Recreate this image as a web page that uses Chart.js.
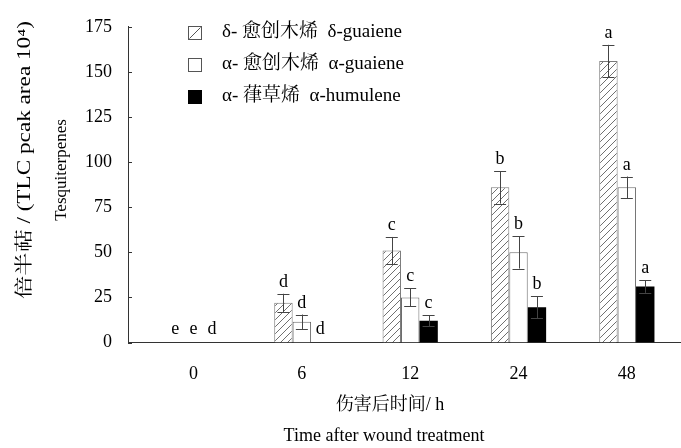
<!DOCTYPE html>
<html>
<head>
<meta charset="utf-8">
<script src="https://cdn.jsdelivr.net/npm/chart.js@4.4.1/dist/chart.umd.min.js"></script>
<style>
html,body{margin:0;padding:0;background:#fff;}
#wrap{width:681px;height:448px;position:relative;}
</style>
</head>
<body>
<div id="wrap"><canvas id="c" width="681" height="448"></canvas></div>
<script>
// ---- data ----
const categories = ['0', '6', '12', '24', '48'];
const seriesNames = ['δ- 愈创木烯  δ-guaiene', 'α- 愈创木烯  α-guaiene', 'α- 葎草烯  α-humulene'];
const deltaGuaiene = [0, 22, 51, 86, 156];
const deltaErr = [0, 5, 7.5, 9, 9];
const alphaGuaiene = [0, 11.5, 25, 50, 86];
const alphaErr = [0, 4, 5, 9, 6];
const alphaHumulene = [0, 0, 12, 19.5, 31];
const humuleneErr = [0, 0, 3, 6, 3.5];
const deltaLetters = ['e', 'd', 'c', 'b', 'a'];
const alphaLetters = ['e', 'd', 'c', 'b', 'a'];
const humuleneLetters = ['d', 'd', 'c', 'b', 'a'];
const yTicks = [0, 25, 50, 75, 100, 125, 150, 175];
const yTitle1 = '倍半萜 / (TLC pcak area 10⁴)';
const yTitle2 = 'Tesquiterpenes';
const xTitle1 = '伤害后时间/ h';
const xTitle2 = 'Time after wound treatment';

const SERIF = "'Liberation Serif', 'Times New Roman', 'Noto Serif CJK SC', 'Noto Sans CJK SC', serif";

// hatch pattern
function makeHatch() {
  const s = 7;
  const pc = document.createElement('canvas');
  pc.width = s; pc.height = s;
  const g = pc.getContext('2d');
  g.fillStyle = '#fff';
  g.fillRect(0, 0, s, s);
  g.strokeStyle = '#707070';
  g.lineWidth = 1;
  g.beginPath();
  g.moveTo(0, s); g.lineTo(s, 0);
  g.moveTo(-1, 1); g.lineTo(1, -1);
  g.moveTo(s - 1, s + 1); g.lineTo(s + 1, s - 1);
  g.stroke();
  return g.createPattern(pc, 'repeat');
}
const hatch = makeHatch();

function pts(arr) { return arr.map((v, i) => ({ x: i, y: v })); }
const zeroNoBorder = (w) => (ctx) => (ctx.raw && ctx.raw.y === 0 ? 0 : w);

const errSets = [deltaErr, alphaErr, humuleneErr];
const letterSets = [deltaLetters, alphaLetters, humuleneLetters];

const errorBarPlugin = {
  id: 'errbars',
  afterDatasetsDraw(chart) {
    const ctx = chart.ctx;
    const y = chart.scales.y;
    ctx.save();
    chart.data.datasets.forEach((ds, di) => {
      const meta = chart.getDatasetMeta(di);
      meta.data.forEach((bar, i) => {
        const v = ds.data[i].y;
        const e = errSets[di][i];
        const x = bar.x;
        let topPix = y.getPixelForValue(v + e);
        if (e > 0) {
          const botPix = y.getPixelForValue(v - e);
          ctx.strokeStyle = '#444';
          ctx.lineWidth = 1;
          ctx.beginPath();
          ctx.moveTo(Math.round(x) + 0.5, topPix);
          ctx.lineTo(Math.round(x) + 0.5, botPix);
          ctx.moveTo(x - 6, Math.round(topPix) + 0.5);
          ctx.lineTo(x + 6, Math.round(topPix) + 0.5);
          ctx.moveTo(x - 6, Math.round(botPix) + 0.5);
          ctx.lineTo(x + 6, Math.round(botPix) + 0.5);
          ctx.stroke();
        }
        ctx.fillStyle = '#000';
        ctx.font = '18px ' + SERIF;
        ctx.textAlign = 'center';
        ctx.textBaseline = 'alphabetic';
        ctx.fillText(letterSets[di][i], x, topPix - (e > 0 ? 7 : 9));
      });
    });
    ctx.restore();
  }
};

const decorPlugin = {
  id: 'decor',
  afterDraw(chart) {
    const ctx = chart.ctx;
    const ys = chart.scales.y;
    const area = chart.chartArea;
    ctx.save();
    // inward y tick marks
    ctx.strokeStyle = '#333';
    ctx.lineWidth = 1;
    ctx.beginPath();
    yTicks.forEach(t => {
      const py = Math.round(ys.getPixelForValue(t)) + 0.5;
      ctx.moveTo(area.left, py);
      ctx.lineTo(area.left + 4, py);
    });
    ctx.stroke();

    // legend
    const lx = 188, box = 13;
    const rows = [32, 64, 96];
    ctx.font = '19px ' + SERIF;
    ctx.textAlign = 'left';
    ctx.textBaseline = 'middle';
    chart.data.datasets.forEach((ds, i) => {
      const cy = rows[i];
      const bx = lx + 0.5, by = Math.round(cy - box / 2) + 0.5;
      if (i === 0) {
        ctx.fillStyle = '#fff';
        ctx.fillRect(bx, by, box, box);
        ctx.strokeStyle = '#555';
        ctx.strokeRect(bx, by, box, box);
        ctx.beginPath();
        ctx.moveTo(bx + 1, by + box - 1);
        ctx.lineTo(bx + box - 1, by + 1);
        ctx.stroke();
      } else if (i === 1) {
        ctx.fillStyle = '#fff';
        ctx.fillRect(bx, by, box, box);
        ctx.strokeStyle = '#555';
        ctx.strokeRect(bx, by, box, box);
      } else {
        ctx.fillStyle = '#000';
        ctx.fillRect(bx - 0.5, by - 0.5, box + 1, box + 1);
      }
      ctx.fillStyle = '#000';
      ctx.fillText(ds.label, 222, cy);
    });

    // axis titles
    ctx.fillStyle = '#000';
    ctx.textAlign = 'center';
    ctx.textBaseline = 'middle';
    ctx.font = '18px ' + SERIF;
    ctx.fillText(xTitle1, 390, 405);
    ctx.fillText(xTitle2, 384, 436);

    ctx.save();
    ctx.translate(25, 160);
    ctx.rotate(-Math.PI / 2);
    ctx.font = '18px ' + SERIF;
    const w = ctx.measureText(yTitle1).width;
    const target = 278;
    ctx.scale(target / w, 1);
    ctx.fillText(yTitle1, 0, 0);
    ctx.restore();

    ctx.save();
    ctx.translate(62, 170);
    ctx.rotate(-Math.PI / 2);
    ctx.font = '17px ' + SERIF;
    ctx.fillText(yTitle2, 0, 0);
    ctx.restore();

    ctx.restore();
  }
};

new Chart(document.getElementById('c'), {
  type: 'bar',
  data: {
    datasets: [
      { label: seriesNames[0], data: pts(deltaGuaiene), backgroundColor: hatch, borderColor: '#7a7a7a', borderWidth: zeroNoBorder(1), borderSkipped: 'bottom' },
      { label: seriesNames[1], data: pts(alphaGuaiene), backgroundColor: '#ffffff', borderColor: '#6a6a6a', borderWidth: zeroNoBorder(1), borderSkipped: 'bottom' },
      { label: seriesNames[2], data: pts(alphaHumulene), backgroundColor: '#000000', borderColor: '#000000', borderWidth: 0 }
    ]
  },
  options: {
    responsive: false,
    devicePixelRatio: 1,
    animation: false,
    categoryPercentage: 0.51,
    barPercentage: 1.0,
    layout: { padding: { left: 0, right: 0, top: 21, bottom: 0 } },
    plugins: { legend: { display: false }, tooltip: { enabled: false } },
    scales: {
      x: {
        type: 'linear',
        offset: false,
        min: -0.605,
        max: 4.5,
        afterBuildTicks: (s) => { s.ticks = categories.map((c, i) => ({ value: i })); },
        afterFit: (s) => { s.height = 448 - 342.5; },
        grid: { display: false, drawTicks: false, tickLength: 0, offset: false },
        border: { display: true, color: '#333', width: 1 },
        ticks: {
          autoSkip: false,
          maxRotation: 0,
          padding: 21,
          color: '#000',
          font: { family: SERIF, size: 18 },
          callback: (v) => categories[v] !== undefined ? categories[v] : ''
        }
      },
      y: {
        min: 0,
        max: 175,
        afterBuildTicks: (s) => { s.ticks = yTicks.map(v => ({ value: v })); },
        afterFit: (s) => { s.width = 128; },
        grid: { display: false, drawTicks: false, tickLength: 0 },
        border: { display: true, color: '#333', width: 1 },
        ticks: {
          padding: 16,
          color: '#000',
          font: { family: SERIF, size: 18 }
        }
      }
    }
  },
  plugins: [errorBarPlugin, decorPlugin]
});
</script>
</body>
</html>
